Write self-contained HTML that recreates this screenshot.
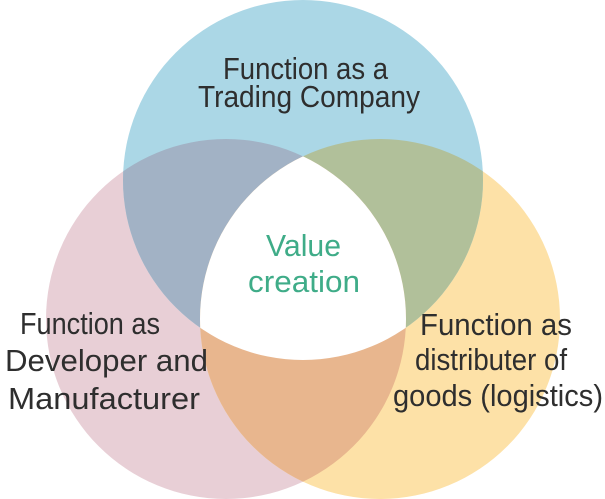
<!DOCTYPE html>
<html><head><meta charset="utf-8"><style>html,body{margin:0;padding:0;background:#fff}svg{display:block}</style></head>
<body>
<svg width="605" height="499" viewBox="0 0 605 499" xmlns="http://www.w3.org/2000/svg">
<defs>
<clipPath id="cT"><circle cx="303" cy="180" r="180"/></clipPath>
<clipPath id="cL"><circle cx="226" cy="319" r="180"/></clipPath>
<clipPath id="cR"><circle cx="380" cy="319" r="180"/></clipPath>
</defs>
<circle cx="226" cy="319" r="180" fill="#e8cfd6"/>
<circle cx="380" cy="319" r="180" fill="#fde1a7"/>
<circle cx="303" cy="180" r="180" fill="#abd7e6"/>
<g clip-path="url(#cT)"><circle cx="226" cy="319" r="180" fill="#a2b2c5"/></g>
<g clip-path="url(#cT)"><circle cx="380" cy="319" r="180" fill="#b1c09a"/></g>
<g clip-path="url(#cL)"><circle cx="380" cy="319" r="180" fill="#e8b68e"/></g>
<g clip-path="url(#cL)"><g clip-path="url(#cR)"><circle cx="303" cy="180" r="180" fill="#ffffff"/></g></g>
<g font-family="Liberation Sans, sans-serif" font-size="31" fill="#2e2e2e">
<text x="223" y="79" textLength="165" lengthAdjust="spacingAndGlyphs">Function as a</text>
<text x="198" y="107" textLength="222" lengthAdjust="spacingAndGlyphs">Trading Company</text>
<text x="20" y="334" textLength="140" lengthAdjust="spacingAndGlyphs">Function as</text>
<text x="5" y="371" textLength="203" lengthAdjust="spacingAndGlyphs">Developer and</text>
<text x="8" y="409" textLength="192" lengthAdjust="spacingAndGlyphs">Manufacturer</text>
<text x="420" y="335" textLength="152" lengthAdjust="spacingAndGlyphs">Function as</text>
<text x="415" y="370" textLength="152" lengthAdjust="spacingAndGlyphs">distributer of</text>
<text x="393" y="406" textLength="210" lengthAdjust="spacingAndGlyphs">goods (logistics)</text>
</g>
<g font-family="Liberation Sans, sans-serif" font-size="31" fill="#3fac88">
<text x="266" y="256" textLength="75" lengthAdjust="spacingAndGlyphs">Value</text>
<text x="248" y="292" textLength="112" lengthAdjust="spacingAndGlyphs">creation</text>
</g>
</svg>
</body></html>
